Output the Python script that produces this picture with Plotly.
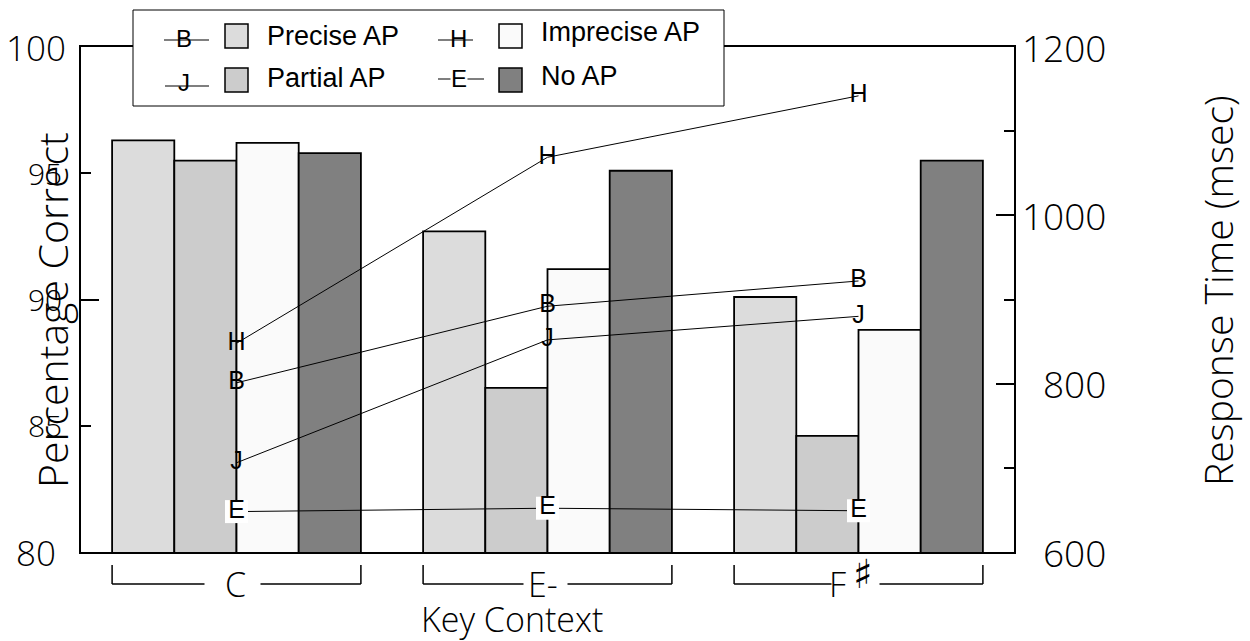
import plotly.graph_objects as go

# ---- data -------------------------------------------------------------
contexts = ["C", "E-", "F♯"]

# percentage correct (bars, left axis)
pc_precise = [96.3, 92.7, 90.1]
pc_partial = [95.5, 86.5, 84.6]
pc_imprecise = [96.2, 91.2, 88.8]
pc_none = [95.8, 95.1, 95.5]

# response time in msec (lines, right axis)
rt_precise = [801, 892, 922]
rt_partial = [706, 852, 880]
rt_imprecise = [848, 1069, 1142]
rt_none = [648, 652, 649]

left_major = [100, 80]
left_minor = [95, 90, 85]
right_labels = [1200, 1000, 800, 600]

bar_series = [
    ("Precise AP", pc_precise, "#dcdcdc"),
    ("Partial AP", pc_partial, "#cccccc"),
    ("Imprecise AP", pc_imprecise, "#fafafa"),
    ("No AP", pc_none, "#808080"),
]
line_series = [
    ("Precise AP", rt_precise, "B"),
    ("Partial AP", rt_partial, "J"),
    ("Imprecise AP", rt_imprecise, "H"),
    ("No AP", rt_none, "E"),
]

# ---- geometry of the plotting area (pixels) ----------------------------
W, H = 1250, 641
L, R, T, B = 81, 1014, 47, 552
SLOT = (R - L) / 3.0          # pixel width of one category slot


def px(xp):
    return (xp - L) / (R - L)


def py(yp):
    return (B - yp) / (B - T)


SANS = "Open Sans"
HELV = "Liberation Sans"
LIGHT = 300

fig = go.Figure()

for name, vals, color in bar_series:
    fig.add_trace(go.Bar(
        x=contexts, y=vals, name=name, yaxis="y",
        marker=dict(color=color, line=dict(color="black", width=1.8)),
        showlegend=False,
    ))

for name, vals, letter in line_series:
    boxed = letter == "E"
    fig.add_trace(go.Scatter(
        x=contexts, y=vals, name=name, yaxis="y2",
        mode="lines+markers+text" if boxed else "lines+text",
        text=[letter] * len(vals), textposition="middle center",
        textfont=dict(family=HELV, size=25, color="black"),
        line=dict(color="black", width=1),
        marker=dict(symbol="square", size=23, color="white",
                    line=dict(width=0)) if boxed else None,
        showlegend=False,
    ))

shapes = []
annotations = []

# ---- brackets under each key context ----------------------------------
y_top, y_bot = py(565), py(584)
# open gap (pixels left / right of the slot centre) where the name sits
gaps = [(-32, 24), (-24, 20), (-27, 21)]
for i, ctx in enumerate(contexts):
    g0, g1 = i + gaps[i][0] / SLOT, i + gaps[i][1] / SLOT
    for xx in (i - 0.4, i + 0.4):
        shapes.append(dict(type="line", xref="x", yref="paper",
                           x0=xx, x1=xx, y0=y_top, y1=y_bot,
                           line=dict(color="black", width=1.5)))
    for xa, xb in ((i - 0.4, g0), (g1, i + 0.4)):
        shapes.append(dict(type="line", xref="x", yref="paper",
                           x0=xa, x1=xb, y0=y_bot, y1=y_bot,
                           line=dict(color="black", width=1.5)))

label_font = dict(family=SANS, size=34, color="black", weight=LIGHT)
annotations.append(dict(
    x=0 - 1 / SLOT, xref="x", y=y_bot, yref="paper", text="C",
    showarrow=False, xanchor="center", yanchor="middle", font=label_font,
))
annotations.append(dict(
    x=1 - 5 / SLOT, xref="x", y=y_bot, yref="paper", text="E-",
    showarrow=False, xanchor="center", yanchor="middle", font=label_font,
))
annotations.append(dict(
    x=2 - 21 / SLOT, xref="x", y=y_bot, yref="paper", text="F",
    showarrow=False, xanchor="center", yanchor="middle", font=label_font,
))
annotations.append(dict(
    x=2 + 4 / SLOT, xref="x", y=py(574), yref="paper", text="♯",
    showarrow=False, xanchor="center", yanchor="middle",
    font=dict(family="DejaVu Sans", size=40, color="black"),
))

# ---- axis tick labels ---------------------------------------------------
for v in left_major:
    annotations.append(dict(
        x=px(36), xref="paper", y=v, yref="y", text=str(v),
        showarrow=False, xanchor="center", yanchor="middle",
        font=dict(family=SANS, size=35, color="black", weight=LIGHT),
    ))
for v in left_minor:
    annotations.append(dict(
        x=px(45), xref="paper", y=v, yref="y", text=str(v),
        showarrow=False, xanchor="center", yanchor="middle",
        font=dict(family=SANS, size=30, color="black", weight=LIGHT),
    ))
for v in right_labels:
    annotations.append(dict(
        x=px(1108), xref="paper", y=v, yref="y2", text=str(v),
        showarrow=False, xanchor="right", yanchor="middle",
        font=dict(family=SANS, size=37, color="black", weight=LIGHT),
    ))

# ---- axis titles --------------------------------------------------------
annotations += [
    dict(x=px(52), xref="paper", y=py(310), yref="paper",
         text="Percentage Correct", textangle=-90, showarrow=False,
         xanchor="center", yanchor="middle",
         font=dict(family=SANS, size=41, color="black", weight=LIGHT)),
    dict(x=px(1217), xref="paper", y=py(291), yref="paper",
         text="Response Time (msec)", textangle=-90, showarrow=False,
         xanchor="center", yanchor="middle",
         font=dict(family=SANS, size=39, color="black", weight=LIGHT)),
    dict(x=px(512), xref="paper", y=py(619), yref="paper",
         text="Key Context", showarrow=False,
         xanchor="center", yanchor="middle",
         font=dict(family=SANS, size=34, color="black", weight=LIGHT)),
]

# ---- legend (drawn by hand: line symbol + swatch + label) --------------
shapes.append(dict(type="rect", xref="paper", yref="paper",
                   x0=px(133), x1=px(724), y0=py(10), y1=py(106),
                   fillcolor="white", line=dict(color="black", width=1),
                   layer="above"))

legend_rows = [
    # letter, line x0, line x1, line y, letter x, letter y, swatch x0, label y, fill, label
    ("B", 164, 209, 40, 184, 39, 225, 36, "#dcdcdc", "Precise AP"),
    ("H", 438, 473, 40, 458, 39, 499, 32, "#fafafa", "Imprecise AP"),
    ("J", 165, 209, 86, 184, 83, 225, 78, "#cccccc", "Partial AP"),
    ("E", 438, 484, 79, 459, 79, 499, 76, "#808080", "No AP"),
]
for (letter, lx0, lx1, ly, tx, ty, sx, laby, fill, label) in legend_rows:
    shapes.append(dict(type="line", xref="paper", yref="paper",
                       x0=px(lx0), x1=px(lx1), y0=py(ly), y1=py(ly),
                       line=dict(color="black", width=1.2), layer="above"))
    sy0 = 24 if ly < 60 else 68
    shapes.append(dict(type="rect", xref="paper", yref="paper",
                       x0=px(sx), x1=px(sx + 23), y0=py(sy0), y1=py(sy0 + 24),
                       fillcolor=fill, line=dict(color="black", width=1.5),
                       layer="above"))
    annotations.append(dict(
        x=px(tx), xref="paper", y=py(ty), yref="paper", text=letter,
        showarrow=False, xanchor="center", yanchor="middle",
        bgcolor="white" if letter == "E" else None, borderpad=0,
        font=dict(family=HELV, size=24, color="black"),
    ))
    annotations.append(dict(
        x=px(sx + 40), xref="paper", y=py(laby), yref="paper", text=label,
        showarrow=False, xanchor="left", yanchor="middle",
        font=dict(family=HELV, size=27, color="black"),
    ))

fig.update_layout(
    width=W, height=H,
    margin=dict(l=L, r=W - R, t=T, b=H - B, pad=0),
    paper_bgcolor="white", plot_bgcolor="white",
    barmode="group", bargap=0.2, bargroupgap=0,
    showlegend=False,
    font=dict(family=SANS, color="black"),
    xaxis=dict(
        type="category", range=[-0.5, 2.5], showticklabels=False,
        ticks="", showgrid=False, zeroline=False,
        showline=True, linecolor="black", linewidth=2, mirror=True,
    ),
    yaxis=dict(
        range=[80, 100], showticklabels=False, showgrid=False,
        zeroline=False, showline=True, linecolor="black", linewidth=2,
        ticks="inside", dtick=10, tick0=80, ticklen=18, tickwidth=1.5,
        tickcolor="black",
        minor=dict(ticks="inside", dtick=5, tick0=80, ticklen=10,
                   tickwidth=1.5, tickcolor="black", showgrid=False),
    ),
    yaxis2=dict(
        range=[600, 1200], overlaying="y", side="right",
        showticklabels=False, showgrid=False, zeroline=False,
        showline=True, linecolor="black", linewidth=2,
        ticks="inside", dtick=200, tick0=600, ticklen=18, tickwidth=1.5,
        tickcolor="black",
        minor=dict(ticks="inside", dtick=100, tick0=600, ticklen=10,
                   tickwidth=1.5, tickcolor="black", showgrid=False),
    ),
    shapes=shapes,
    annotations=annotations,
)

fig.write_html("out.html")
